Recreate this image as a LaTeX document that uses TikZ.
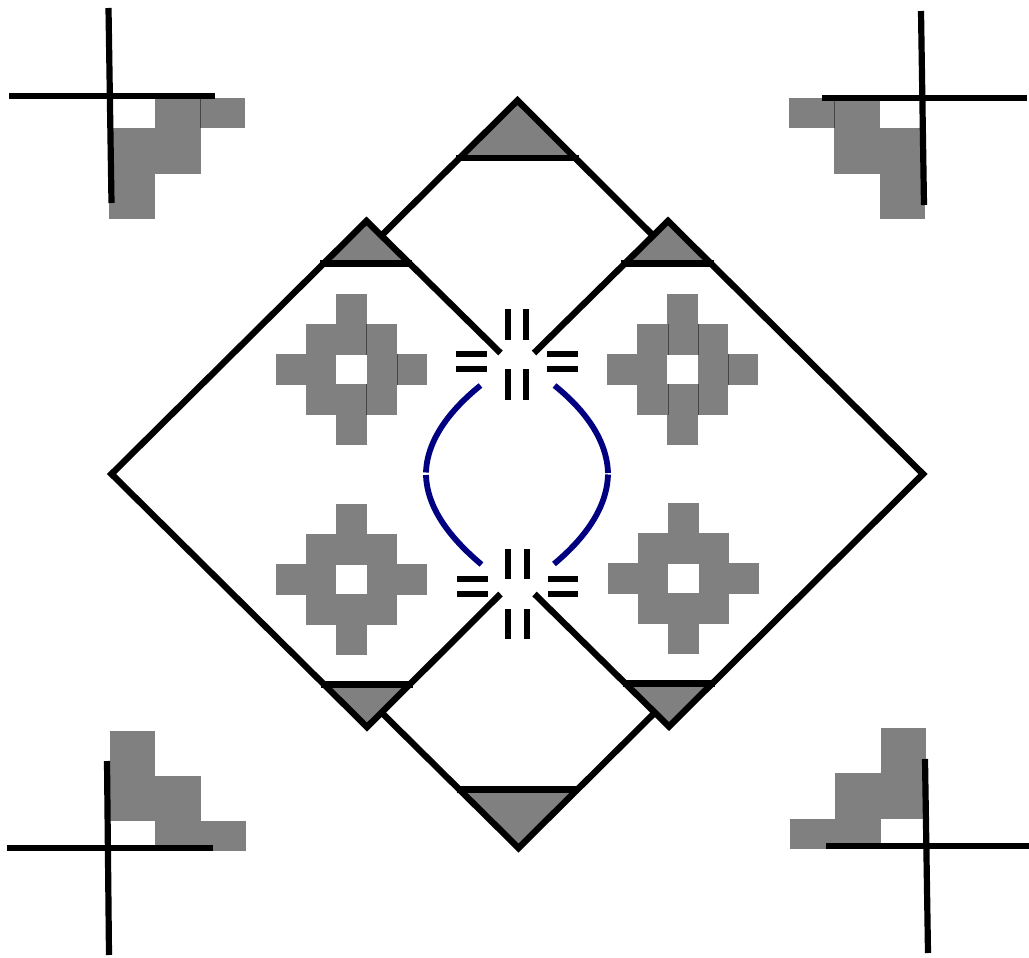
\documentclass[tikz,border=0pt]{standalone}
\definecolor{fillgrey}{RGB}{128,128,128}
\definecolor{curvenavy}{RGB}{0,0,128}
\definecolor{seamgrey}{RGB}{70,70,70}
\tikzset{
  px/.style={x=1pt,y=-1pt},
  blk/.style={draw=black,line width=6.4pt,line join=miter,miter limit=10},
  crossline/.style={draw=black,line width=6.2pt},
  bar/.style={draw=black,line width=6.4pt},
  gr/.style={fill=fillgrey,draw=none},
  seam/.style={draw=seamgrey,line width=0.8pt},
  navycurve/.style={draw=curvenavy,line width=5.8pt},
  pics/plus/.style={code={
    \fill[fillgrey] (60,0) rectangle (91,61);
    \fill[fillgrey] (30,30) rectangle (60,121);
    \fill[fillgrey] (91,30) rectangle (121,121);
    \fill[fillgrey] (0,60) rectangle (30,91);
    \fill[fillgrey] (121,60) rectangle (151,91);
    \fill[fillgrey] (60,90) rectangle (91,151);
  }},
}
\begin{document}
\begin{tikzpicture}[px]
\useasboundingbox (0,0) rectangle (1029,958);
\fill[white] (0,0) rectangle (1029,958);

% corner staircases
\fill[gr] (155,99) rectangle (201,128);
\fill[gr] (109,128) rectangle (201,174);
\fill[gr] (109,174) rectangle (155,219);
\fill[gr] (201,98) rectangle (245,128);
\draw[seam] (200.5,98) -- (200.5,128);

\fill[gr] (789,98) rectangle (834,128);
\fill[gr] (834,98) rectangle (880,174);
\fill[gr] (880,128) rectangle (925,219);
\draw[seam] (834,98) -- (834,128);

\fill[gr] (110,731) rectangle (155,821);
\fill[gr] (155,776) rectangle (201,845);
\fill[gr] (201,821) rectangle (246,851);

\fill[gr] (881,728) rectangle (926,819);
\fill[gr] (835,773) rectangle (881,845);
\fill[gr] (790,819) rectangle (835,849);

% corner crosses
\draw[crossline] (108.5,8) -- (111.5,203);
\draw[crossline] (9,96) -- (215,96);
\draw[crossline] (921,11) -- (924,205);
\draw[crossline] (822,98) -- (1027,98);
\draw[crossline] (107,761) -- (109,955);
\draw[crossline] (7,848) -- (213,848);
\draw[crossline] (925,759) -- (928,953);
\draw[crossline] (826,846) -- (1029,846);

% plus-shaped blocks
\pic at (276,294) {plus};
\pic at (607,294) {plus};
\pic at (276,504) {plus};
\pic at (608,503) {plus};
\draw[seam] (366.5,324) -- (366.5,355);
\draw[seam] (366.5,384) -- (366.5,415);
\draw[seam] (397,354) -- (397,385);
\draw[seam] (668,324) -- (668,355);
\draw[seam] (668,384) -- (668,415);
\draw[seam] (698,324) -- (698,355);
\draw[seam] (698,384) -- (698,415);
\draw[seam] (728,354) -- (728,385);

% apexes
\coordinate (topA) at (517.5,100.5);
\coordinate (tlA) at (366.5,221);
\coordinate (trA) at (668,221);
\coordinate (lA) at (111.5,474);
\coordinate (rA) at (923,474);
\coordinate (blA) at (367,727);
\coordinate (brA) at (669,726.5);
\coordinate (botA) at (518.5,848);

% grey triangles
\fill[gr] (topA) -- (459,158) -- (576,158) -- cycle;
\fill[gr] (tlA) -- (324,263.5) -- (409,263.5) -- cycle;
\fill[gr] (trA) -- (626,263.5) -- (710,263.5) -- cycle;
\fill[gr] (blA) -- (325,684.5) -- (409,684.5) -- cycle;
\fill[gr] (brA) -- (627,683.5) -- (711,683.5) -- cycle;
\fill[gr] (botA) -- (461,789.5) -- (576,789.5) -- cycle;

% triangle bases
\draw[bar] (456,158) -- (579,158);
\draw[bar] (320,263.5) -- (412,263.5);
\draw[bar] (621,263.5) -- (714,263.5);
\draw[bar] (321,684.5) -- (413,684.5);
\draw[bar] (623,683.5) -- (715,683.5);
\draw[bar] (457,789.5) -- (579,789.5);

% main outlines
\draw[blk] (500.5,353) -- (tlA) -- (lA) -- (blA) -- (500.5,594);
\draw[blk] (534,353) -- (trA) -- (rA) -- (brA) -- (534.5,594);
\draw[blk] (381,236) -- (topA) -- (653.5,236);
\draw[blk] (381.5,712.5) -- (botA) -- (655,712.5);

% equals bars, upper
\draw[bar] (508,309) -- (508,340);
\draw[bar] (526,309) -- (526,340);
\draw[bar] (508,369) -- (508,400);
\draw[bar] (526,369) -- (526,400);
\draw[bar] (456,354) -- (487,354);
\draw[bar] (456,369) -- (487,369);
\draw[bar] (547,354) -- (578,354);
\draw[bar] (547,369) -- (578,369);
% equals bars, lower
\draw[bar] (508,549) -- (508,579);
\draw[bar] (527,549) -- (527,579);
\draw[bar] (508,609) -- (508,639);
\draw[bar] (527,609) -- (527,639);
\draw[bar] (457,579) -- (488,579);
\draw[bar] (457,594) -- (488,594);
\draw[bar] (548,579) -- (578,579);
\draw[bar] (548,594) -- (578,594);

% navy arcs
\draw[navycurve] (480.5,385.5) .. controls (450,410) and (427,440) .. (426,472.5);
\draw[navycurve] (426,475) .. controls (427,508) and (450,538) .. (481.5,564.5);
\draw[navycurve] (554.5,385.5) .. controls (585,410) and (607,440) .. (608,473);
\draw[navycurve] (608,474.5) .. controls (607,508) and (585,538) .. (554,564);
\end{tikzpicture}
\end{document}
